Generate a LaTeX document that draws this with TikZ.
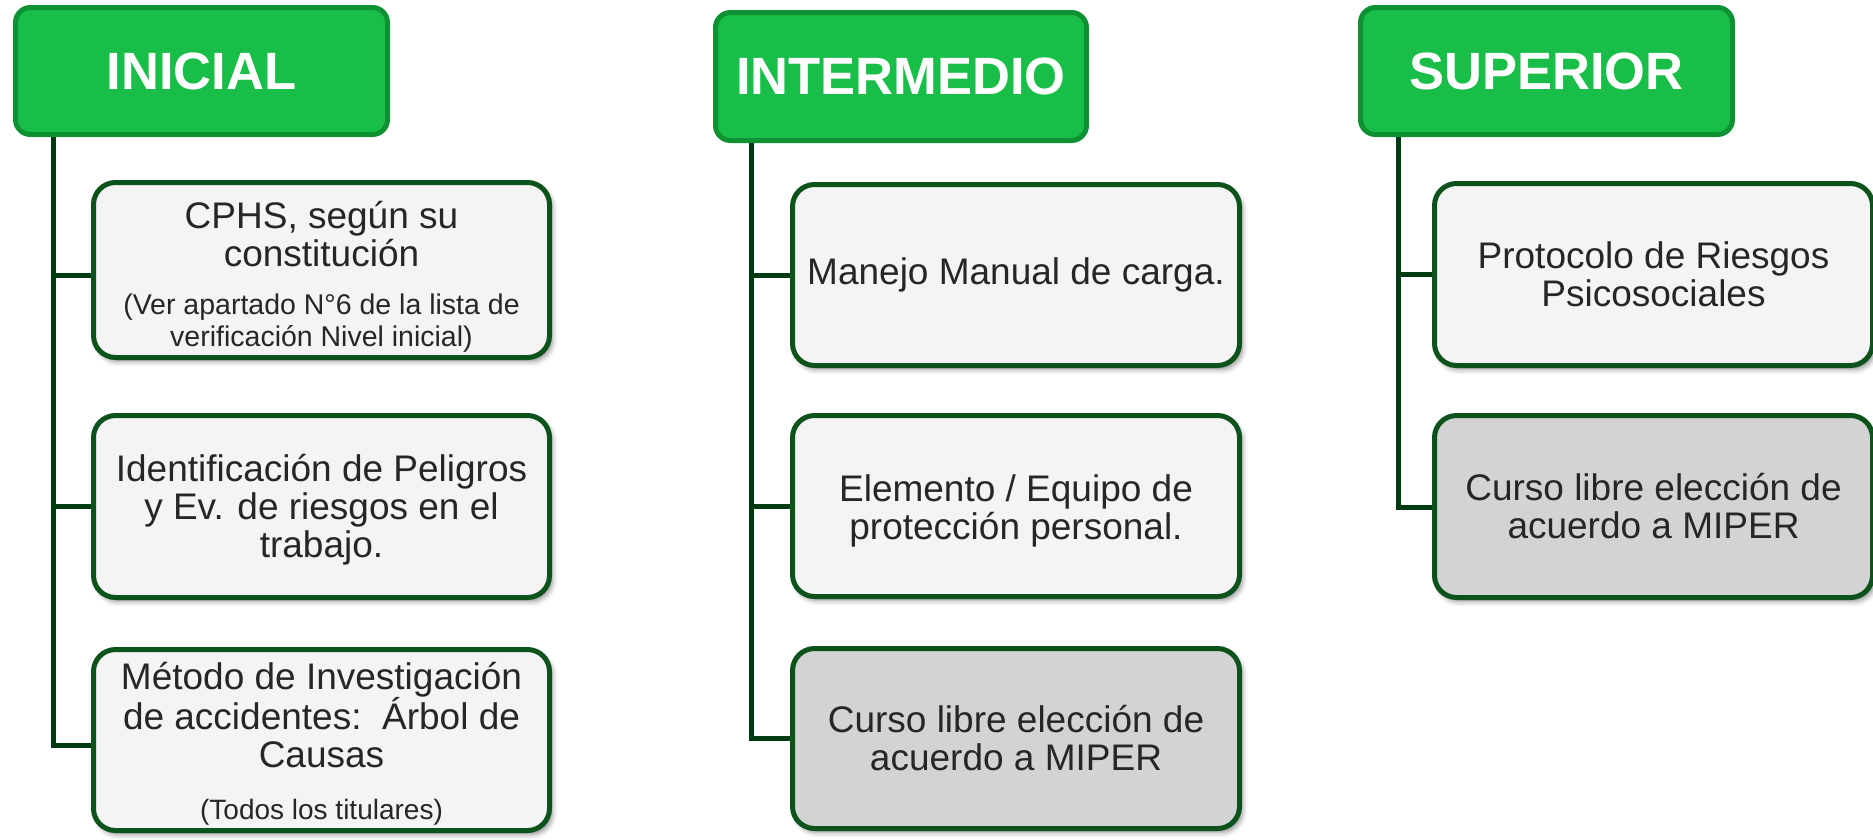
\documentclass[tikz,border=0pt]{standalone}
\usepackage{fontspec}
\setmainfont{Liberation Sans}
\usetikzlibrary{shadows.blur}
\definecolor{hdrfill}{RGB}{24,190,72}
\definecolor{hdrline}{RGB}{14,145,50}
\definecolor{boxline}{RGB}{12,82,27}
\definecolor{trunkcol}{RGB}{0,58,16}
\definecolor{lightfill}{RGB}{244,244,244}
\definecolor{grayfill}{RGB}{211,211,211}
\definecolor{txtcol}{RGB}{38,38,38}
\begin{document}
\begin{tikzpicture}[x=1pt,y=-1pt,
  header/.style={draw=hdrline, line width=5pt, fill=hdrfill, rounded corners=15pt,
    inner sep=0pt, text=white, font=\fontsize{52.5}{56}\selectfont\bfseries},
  itembox/.style={draw=boxline, line width=5pt, fill=lightfill, rounded corners=22pt,
    inner sep=0pt, align=flush center, text=txtcol,
    blur shadow={shadow xshift=3pt, shadow yshift=-4pt, shadow blur radius=5pt, shadow opacity=45},
    font=\fontsize{37}{38}\selectfont},
  grayitem/.style={itembox, fill=grayfill},
  trunk/.style={draw=trunkcol, line width=5pt}]
\useasboundingbox (0,0) rectangle (1873,839);

% headers
\node[header, minimum width=372pt, minimum height=127pt] (h1) at (201.5,71) {INICIAL};
\node[header, minimum width=371pt, minimum height=128pt] (h2) at (901,76.5) {INTERMEDIO};
\node[header, minimum width=372pt, minimum height=127pt] (h3) at (1546.5,71) {SUPERIOR};

% trunk x positions
\coordinate (x1) at (53,0);
\coordinate (x2) at (751,0);
\coordinate (x3) at (1398,0);
\coordinate (t1) at (h1.south -| x1);
\coordinate (t2) at (h2.south -| x2);
\coordinate (t3) at (h3.south -| x3);

% boxes column 1
\node[itembox, minimum width=456pt, minimum height=175pt, text width=446pt] (b11) at (321.5,270)
 {{\fontsize{37}{38}\selectfont\rule{0pt}{40pt}CPHS, según su\\constitución\par}%
  {\fontsize{28.5}{32}\selectfont\vspace{16pt}(Ver apartado N°6 de la lista de\\verificación Nivel inicial)\par}};
\node[itembox, minimum width=456pt, minimum height=182pt, text width=446pt] (b12) at (321.5,506.5)
 {\rule{0pt}{34pt}Identificación de Peligros\\y Ev. de riesgos en el\\trabajo.};
\node[itembox, minimum width=456pt, minimum height=181pt, text width=446pt] (b13) at (321.5,740)
 {{\fontsize{37}{38}\selectfont\rule{0pt}{35pt}Método de Investigación\\de accidentes:\ \ Árbol de\\Causas\par}%
  {\fontsize{28}{32}\selectfont\vspace{20pt}(Todos los titulares)\par}};

% boxes column 2
\node[itembox, minimum width=447pt, minimum height=181pt, text width=437pt] (b21) at (1016,275)
 {Manejo Manual de carga.};
\node[itembox, minimum width=447pt, minimum height=181pt, text width=437pt] (b22) at (1016,506)
 {\rule{0pt}{37pt}Elemento / Equipo de\\protección personal.};
\node[grayitem, minimum width=447pt, minimum height=180pt, text width=437pt] (b23) at (1016,738.5)
 {Curso libre elección de\\acuerdo a MIPER};

% boxes column 3
\node[itembox, minimum width=438pt, minimum height=182pt, text width=428pt] (b31) at (1653.5,274.5)
 {Protocolo de Riesgos\\Psicosociales};
\node[grayitem, minimum width=438pt, minimum height=182pt, text width=428pt] (b32) at (1653.5,506.5)
 {Curso libre elección de\\acuerdo a MIPER};

% connectors
\draw[trunk] (t1) |- ([yshift=-5pt]b13.west -| b13.west);
\draw[trunk] ([yshift=-5pt]b11.west -| t1) -- ([yshift=-5pt]b11.west);
\draw[trunk] (b12.west -| t1) -- (b12.west);

\draw[trunk] (t2) |- (b23.west);
\draw[trunk] (b21.west -| t2) -- (b21.west);
\draw[trunk] (b22.west -| t2) -- (b22.west);

\draw[trunk] (t3) |- ([yshift=-1pt]b32.west);
\draw[trunk] (b31.west -| t3) -- (b31.west);
\end{tikzpicture}
\end{document}
